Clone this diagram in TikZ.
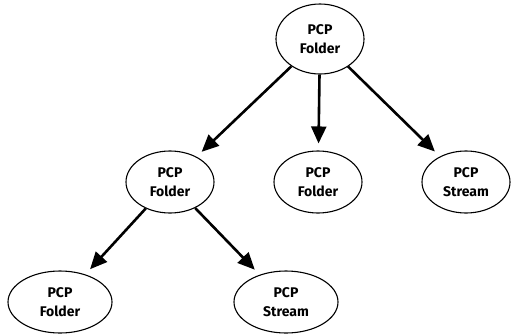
\documentclass[tikz,border=0pt]{standalone}
\usepackage{fontspec}
\setsansfont{Fira Sans}
\usetikzlibrary{shapes.geometric, arrows.meta}

\begin{document}
\begin{tikzpicture}[x=1pt, y=-1pt,
    font=\sffamily\bfseries\fontsize{14}{19}\selectfont,
    pcpnode/.style={draw, ellipse, line width=1.1pt, align=center,
      inner sep=0pt, minimum width=88pt, minimum height=62pt},
    pcpwide/.style={pcpnode, minimum width=104pt},
    pcparrow/.style={line width=2.6pt, shorten >=7pt,
      -{Triangle[length=17pt, width=15pt]}}]
  \useasboundingbox (0,0) rectangle (515,333);
  % tree of PCP objects
  \node[pcpnode, minimum height=70pt] (root) at (320,39) {PCP\\Folder};
  \node[pcpnode] (foldA) at (170,182) {PCP\\Folder};
  \node[pcpnode] (foldB) at (318,182) {PCP\\Folder};
  \node[pcpnode] (strmA) at (466,182) {PCP\\Stream};
  \node[pcpwide] (foldC) at (60,302) {PCP\\Folder};
  \node[pcpwide] (strmB) at (286,302) {PCP\\Stream};
  \foreach \a/\b in {root/foldA, root/foldB, root/strmA, foldA/foldC, foldA/strmB}
    \draw[pcparrow] (\a) -- (\b);
\end{tikzpicture}
\end{document}
